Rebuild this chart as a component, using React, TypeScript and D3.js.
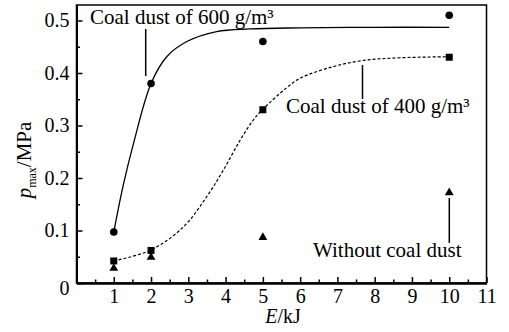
import React, { useEffect, useRef } from 'react';
import * as d3 from 'd3';

// measured points
const energy = [1, 2, 5, 10];
const coal600 = [0.097, 0.38, 0.46, 0.51];
const coal400 = [0.042, 0.062, 0.33, 0.43];
const noCoal = [0.028, 0.049, 0.087, 0.172];

// fitted curves
const fit600E = [1, 1.25, 1.53, 2, 2.42, 2.96, 3.76, 4.65, 6, 8, 10];
const fit600P = [0.097, 0.185, 0.266, 0.38, 0.431, 0.46, 0.479, 0.484, 0.486, 0.487, 0.487];
const fit400E = [1, 2, 2.87, 3.49, 3.94, 4.39, 4.74, 5, 5.64, 6, 6.88, 7.7, 8.7, 10];
const fit400P = [0.042, 0.063, 0.107, 0.164, 0.215, 0.272, 0.31, 0.331, 0.372, 0.39, 0.412, 0.424, 0.429, 0.431];

const xTicks = [1, 2, 3, 4, 5, 6, 7, 8, 9, 10, 11];
const xMinor = [0.5, 1.5, 2.5, 3.5, 4.5, 5.5, 6.5, 7.5, 8.5, 9.5, 10.5];
const yTicks = [0, 0.1, 0.2, 0.3, 0.4, 0.5];
const yMinor = [0.05, 0.15, 0.25, 0.35, 0.45];

const font = '"Liberation Serif", "Times New Roman", serif';

export default function App() {
    const svgRef = useRef(null);

    useEffect(() => {
        const width = 509;
        const height = 332;
        const left = 76.5, right = 486.5, top = 5, bottom = 283;

        const svg = d3.select(svgRef.current)
            .attr('width', width)
            .attr('height', height);
        svg.selectAll('*').remove();

        const x = d3.scaleLinear().domain([0, 11]).range([left, right]);
        const y = d3.scaleLinear().domain([0, 0.5295]).range([bottom, top]);

        // frame
        svg.append('rect')
            .attr('x', left).attr('y', top)
            .attr('width', right - left).attr('height', bottom - top)
            .attr('fill', 'none').attr('stroke', '#000').attr('stroke-width', 1.5);

        // x axis
        const gx = svg.append('g')
            .attr('transform', `translate(0,${bottom})`)
            .call(d3.axisBottom(x).tickValues(xTicks).tickSizeInner(-6).tickSizeOuter(0).tickPadding(5.5));
        gx.append('g').call(d3.axisBottom(x).tickValues(xMinor).tickSizeInner(-3.5).tickSizeOuter(0).tickFormat(() => ''));

        // y axis
        const gy = svg.append('g')
            .attr('transform', `translate(${left},0)`)
            .call(d3.axisLeft(y).tickValues(yTicks).tickSizeInner(-6).tickSizeOuter(0).tickPadding(7)
                .tickFormat(d => d === 0 ? '0' : d.toFixed(1)));
        gy.append('g').call(d3.axisLeft(y).tickValues(yMinor).tickSizeInner(-3.5).tickSizeOuter(0).tickFormat(() => ''));

        svg.selectAll('.domain').attr('stroke-width', 2);
        svg.selectAll('.tick line').attr('stroke-width', 1.5);
        svg.selectAll('.tick text')
            .attr('font-family', font)
            .attr('font-size', 20)
            .attr('fill', '#000');
        gy.selectAll('.tick text').filter(d => d === 0).attr('dy', '0.55em');

        // fitted curves
        const line = d3.line()
            .x(d => x(d[0]))
            .y(d => y(d[1]))
            .curve(d3.curveCatmullRom.alpha(0.5));

        svg.append('path')
            .attr('d', line(fit600E.map((e, i) => [e, fit600P[i]])))
            .attr('fill', 'none').attr('stroke', '#000').attr('stroke-width', 1.3);

        svg.append('path')
            .attr('d', line(fit400E.map((e, i) => [e, fit400P[i]])))
            .attr('fill', 'none').attr('stroke', '#000').attr('stroke-width', 1.2)
            .attr('stroke-dasharray', '3,2');

        // markers
        svg.append('g').selectAll('circle')
            .data(energy.map((e, i) => [e, coal600[i]]))
            .enter().append('circle')
            .attr('cx', d => x(d[0])).attr('cy', d => y(d[1]))
            .attr('r', 3.8).attr('fill', '#000');

        svg.append('g').selectAll('rect')
            .data(energy.map((e, i) => [e, coal400[i]]))
            .enter().append('rect')
            .attr('x', d => x(d[0]) - 3.5).attr('y', d => y(d[1]) - 3.5)
            .attr('width', 7).attr('height', 7).attr('fill', '#000');

        const tri = d3.symbol().type(d3.symbolTriangle).size(34);
        svg.append('g').selectAll('path')
            .data(energy.map((e, i) => [e, noCoal[i]]))
            .enter().append('path')
            .attr('transform', d => `translate(${x(d[0])},${y(d[1])})`)
            .attr('d', tri).attr('fill', '#000');

        // annotations
        const note = (tx, ty, label) => svg.append('text')
            .attr('x', tx).attr('y', ty)
            .attr('font-family', font).attr('font-size', 21)
            .attr('fill', '#000')
            .text(label);
        const leader = (lx, y1, y2) => svg.append('line')
            .attr('x1', lx).attr('x2', lx).attr('y1', y1).attr('y2', y2)
            .attr('stroke', '#000').attr('stroke-width', 1.5);

        note(90, 24, 'Coal dust of 600 g/m³');
        leader(145.7, 29, 76);
        note(286, 113, 'Coal dust of 400 g/m³');
        leader(362.5, 65, 99);
        note(313, 257, 'Without coal dust');
        leader(449.3, 198, 243);

        // axis titles
        const ty = svg.append('text')
            .attr('transform', 'translate(31,160) rotate(-90)')
            .attr('text-anchor', 'middle')
            .attr('font-family', font).attr('font-size', 21).attr('fill', '#000');
        ty.append('tspan').attr('font-style', 'italic').text('p');
        ty.append('tspan').attr('font-size', 12).attr('dy', 5).text('max');
        ty.append('tspan').attr('dy', -5).text('/MPa');

        const tx = svg.append('text')
            .attr('x', 283).attr('y', 323)
            .attr('text-anchor', 'middle')
            .attr('font-family', font).attr('font-size', 20).attr('fill', '#000');
        tx.append('tspan').attr('font-style', 'italic').text('E');
        tx.append('tspan').text('/kJ');
    }, []);

    return (
        <div style={{ position: 'absolute', left: 0, top: 0 }}>
            <svg ref={svgRef}></svg>
        </div>
    );
}
